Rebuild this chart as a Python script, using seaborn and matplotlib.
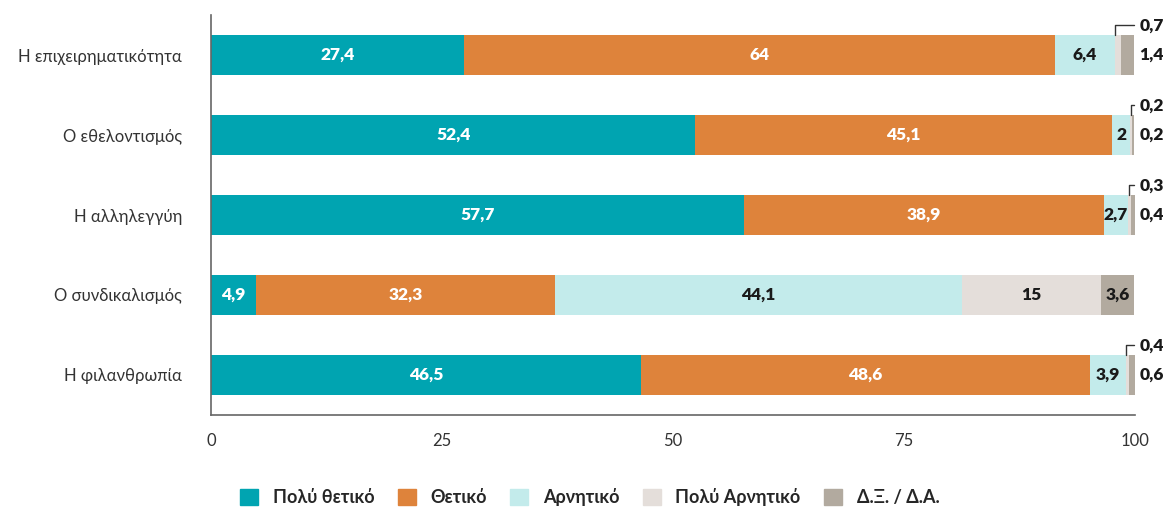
import pandas as pd
import matplotlib.pyplot as plt
import seaborn as sns

categories = ['Η επιχειρηματικότητα', 'Ο εθελοντισμός', 'Η αλληλεγγύη',
              'Ο συνδικαλισμός', 'Η φιλανθρωπία']
series = ['Πολύ θετικό', 'Θετικό', 'Αρνητικό', 'Πολύ Αρνητικό', 'Δ.Ξ. / Δ.Α.']
very_positive = [27.4, 52.4, 57.7, 4.9, 46.5]
positive = [64, 45.1, 38.9, 32.3, 48.6]
negative = [6.4, 2, 2.7, 44.1, 3.9]
very_negative = [0.7, 0.2, 0.3, 15, 0.4]
dont_know = [1.4, 0.2, 0.4, 3.6, 0.6]
x_ticks = [0, 25, 50, 75, 100]

colors = ['#00A4B1', '#DE833B', '#C3EBEB', '#E4DEDA', '#B2AA9F']
text_colors = ['white', 'white', '#1a1a1a', '#1a1a1a', '#1a1a1a']

df = pd.DataFrame({'cat': categories, series[0]: very_positive, series[1]: positive,
                   series[2]: negative, series[3]: very_negative, series[4]: dont_know})

sns.set_style('white')
plt.rcParams['font.family'] = ['Lato', 'DejaVu Sans']

fig = plt.figure(figsize=(11.68, 5.11), dpi=100)
ax = fig.add_axes([0.1807, 0.1879, 0.791, 0.7827])

left = [0.0] * len(categories)
for s, c in zip(series, colors):
    sns.barplot(data=df, x=s, y='cat', orient='h', color=c, width=0.5,
                left=left, ax=ax, linewidth=0, saturation=1)
    left = [l + v for l, v in zip(left, df[s])]

def fmt(v):
    return ('%g' % v).replace('.', ',')

# labels inside bars
for i in range(len(categories)):
    start = 0.0
    for s, tc in zip(series, text_colors):
        v = df[s][i]
        if v >= 2:
            ax.text(start + v / 2, i, fmt(v), ha='center', va='center',
                    color=tc, fontsize=12.5, fontweight='heavy')
        start += v
    # small values annotated on the right
    vn, dk = df[series[3]][i], df[series[4]][i]
    if vn < 2 and dk < 2:
        seg_x = start - dk - vn
        ax.plot([seg_x + 0.05, seg_x + 0.05, 99.9], [i - 0.25, i - 0.37, i - 0.37],
                color='#333333', lw=1, clip_on=False)
        ax.text(100.5, i - 0.37, fmt(vn), ha='left', va='center',
                fontsize=12.5, fontweight='heavy', color='#1a1a1a')
        ax.text(100.5, i, fmt(dk), ha='left', va='center',
                fontsize=12.5, fontweight='heavy', color='#1a1a1a')

ax.set_xlim(0, 100)
ax.set_ylim(4.5, -0.5)
ax.set_xticks(x_ticks)
ax.set_xticklabels([str(t) for t in x_ticks], fontsize=12, color='#333333')
ax.set_yticks(range(len(categories)))
ax.set_yticklabels(categories, fontsize=12, color='#333333')
ax.set_yticks([i - 0.5 for i in range(len(categories))], minor=True)
ax.tick_params(axis='y', which='major', length=0, pad=21)
ax.tick_params(axis='y', which='minor', direction='in', length=5, color='#555555')
ax.tick_params(axis='x', direction='in', length=5, color='#555555', pad=13)
ax.set_xlabel('')
ax.set_ylabel('')
sns.despine(ax=ax)
for sp in ['left', 'bottom']:
    ax.spines[sp].set_color('#666666')
    ax.spines[sp].set_linewidth(1.2)

handles = [plt.Rectangle((0, 0), 1, 1, color=c) for c in colors]
fig.legend(handles, series, loc='center', bbox_to_anchor=(0.505, 0.027), ncol=5,
           frameon=False, handlelength=1.0, handleheight=1.0, columnspacing=1.3,
           handletextpad=0.8, prop={'weight': 'bold', 'size': 13})

fig.savefig('out.png', dpi=100)
